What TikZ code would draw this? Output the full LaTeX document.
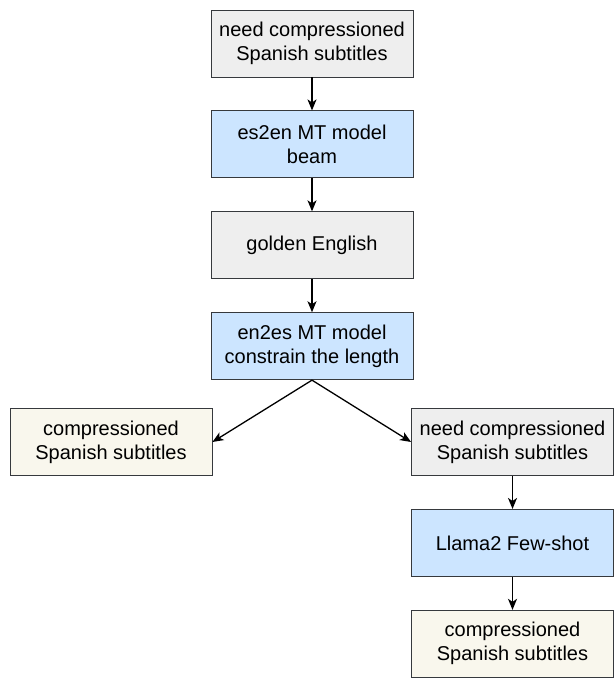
\documentclass[tikz,border=0pt]{standalone}
\usepackage{fontspec}
\setmainfont{Liberation Sans}
\usetikzlibrary{positioning,arrows.meta}
\definecolor{edgegray}{HTML}{36393D}
\definecolor{fillgray}{HTML}{EEEEEE}
\definecolor{fillblue}{HTML}{CCE5FF}
\definecolor{fillcream}{HTML}{F9F7ED}

\begin{document}
\begin{tikzpicture}[x=1pt,y=-1pt,
	box/.style={rectangle,draw=edgegray,line width=0.9pt,minimum width=202pt,minimum height=67pt,
		align=center,inner sep=0pt,font=\fontsize{20}{24}\selectfont},
	graybox/.style={box,fill=fillgray},
	bluebox/.style={box,fill=fillblue},
	creambox/.style={box,fill=fillcream},
	flow/.style={-{Stealth[length=11pt,width=9pt,inset=3pt]},line width=1.3pt,black}]
	\useasboundingbox (0,0) rectangle (614,679);
	% main chain
	\node[graybox] (need) at (312,43.5) {need compressioned\\Spanish subtitles};
	\node[bluebox, below=33pt of need] (esen) {es2en MT model\\beam};
	\node[graybox, below=33pt of esen] (golden) {golden English};
	\node[bluebox, below=33pt of golden] (enes) {en2es MT model\\constrain the length};
	% two branches
	\node[creambox] (outleft) at (111,442) {compressioned\\Spanish subtitles};
	\node[graybox] (needright) at (512.5,442) {need compressioned\\Spanish subtitles};
	\node[bluebox, below=33pt of needright] (llama) {Llama2 Few-shot};
	\node[creambox, below=33pt of llama] (outright) {compressioned\\Spanish subtitles};
	% arrows
	\draw[flow] (need) -- (esen);
	\draw[flow] (esen) -- (golden);
	\draw[flow] (golden) -- (enes);
	\draw[flow] (enes.south) -- (outleft.east);
	\draw[flow] (enes.south) -- (needright.west);
	\draw[flow] (needright) -- (llama);
	\draw[flow] (llama) -- (outright);
\end{tikzpicture}
\end{document}
